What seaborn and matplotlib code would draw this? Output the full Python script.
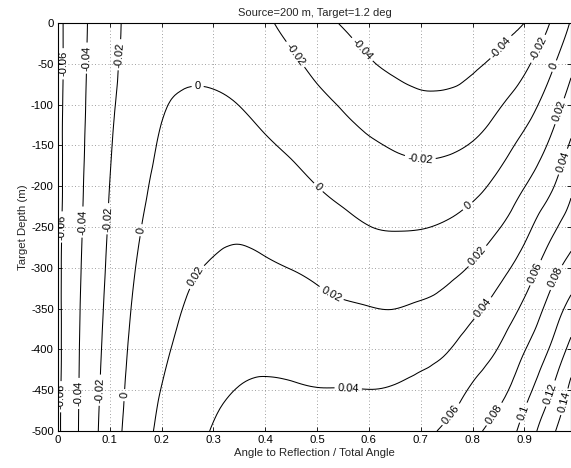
import numpy as np
import matplotlib
matplotlib.use("Agg")
import matplotlib.pyplot as plt
import matplotlib.tri as mtri
from matplotlib.ticker import FuncFormatter
import seaborn as sns

# Angle to reflection / total angle (columns) and target depth (rows)
angle_frac = [0.0, 0.05, 0.10, 0.15, 0.20, 0.25, 0.30, 0.35, 0.40, 0.45, 0.50,
              0.55, 0.60, 0.65, 0.70, 0.75, 0.80, 0.85, 0.90, 0.95, 0.99]
target_depth = [0, -50, -100, -150, -200, -250, -300, -350, -400, -450, -500]

# values, one list per depth row
dev_000 = [-0.0644, -0.0427, -0.0258, -0.0145, -0.0105, -0.0095, -0.0092, -0.0115, -0.0175, -0.0255, -0.0330,
           -0.0415, -0.0465, -0.0500, -0.0515, -0.0515, -0.0495, -0.0460, -0.0400, -0.0195, 0.0015]
dev_050 = [-0.0645, -0.0422, -0.0243, -0.0135, -0.0066, -0.0035, -0.0036, -0.0062, -0.0117, -0.0170, -0.0240,
           -0.0306, -0.0385, -0.0432, -0.0468, -0.0465, -0.0425, -0.0361, -0.0240, -0.0045, 0.0155]
dev_100 = [-0.0641, -0.0415, -0.0228, -0.0115, -0.0018, 0.0025, 0.0022, -0.0002, -0.0047, -0.0097, -0.0160,
           -0.0215, -0.0288, -0.0325, -0.0355, -0.0353, -0.0316, -0.0220, -0.0090, 0.0095, 0.0285]
dev_150 = [-0.0642, -0.0406, -0.0213, -0.0087, 0.0020, 0.0072, 0.0075, 0.0056, 0.0018, -0.0025, -0.0080,
           -0.0130, -0.0175, -0.0215, -0.0239, -0.0232, -0.0187, -0.0085, 0.0055, 0.0228, 0.0425]
dev_200 = [-0.0646, -0.0396, -0.0198, -0.0057, 0.0050, 0.0108, 0.0122, 0.0115, 0.0088, 0.0052, 0.0000,
           -0.0045, -0.0085, -0.0117, -0.0123, -0.0102, -0.0053, 0.0052, 0.0195, 0.0367, 0.0565]
dev_250 = [-0.0640, -0.0386, -0.0183, -0.0027, 0.0078, 0.0142, 0.0168, 0.0175, 0.0152, 0.0127, 0.0083,
           0.0042, 0.0003, -0.0011, -0.0007, 0.0020, 0.0083, 0.0189, 0.0340, 0.0543, 0.0700]
dev_300 = [-0.0636, -0.0375, -0.0167, 0.0001, 0.0105, 0.0177, 0.0213, 0.0233, 0.0219, 0.0197, 0.0166,
           0.0129, 0.0102, 0.0094, 0.0108, 0.0145, 0.0219, 0.0335, 0.0490, 0.0712, 0.0875]
dev_350 = [-0.0638, -0.0364, -0.0150, 0.0028, 0.0137, 0.0213, 0.0262, 0.0292, 0.0285, 0.0270, 0.0247,
           0.0221, 0.0206, 0.0199, 0.0223, 0.0268, 0.0360, 0.0475, 0.0640, 0.0868, 0.1065]
dev_400 = [-0.0640, -0.0355, -0.0133, 0.0054, 0.0171, 0.0250, 0.0312, 0.0350, 0.0355, 0.0345, 0.0327,
           0.0314, 0.0306, 0.0305, 0.0338, 0.0388, 0.0492, 0.0608, 0.0790, 0.1017, 0.1260]
dev_450 = [-0.0634, -0.0348, -0.0116, 0.0078, 0.0204, 0.0287, 0.0362, 0.0406, 0.0420, 0.0415, 0.0405,
           0.0405, 0.0402, 0.0415, 0.0453, 0.0510, 0.0625, 0.0739, 0.0930, 0.1183, 0.1450]
dev_500 = [-0.0629, -0.0342, -0.0098, 0.0100, 0.0235, 0.0322, 0.0412, 0.0460, 0.0465, 0.0462, 0.0470,
           0.0480, 0.0490, 0.0518, 0.0560, 0.0630, 0.0752, 0.0873, 0.1070, 0.1345, 0.1560]

levels = [-0.06, -0.04, -0.02, 0.0, 0.02, 0.04, 0.06, 0.08, 0.10, 0.12, 0.14]

# where the inline labels sit (data coords), roughly as in the original
label_spots = [
    (0.010, -50), (0.010, -250), (0.006, -458),
    (0.057, -43), (0.049, -244), (0.042, -454),
    (0.120, -39), (0.100, -240), (0.081, -450),
    (0.161, -254), (0.127, -456),
    (0.27, -71), (0.50, -203), (0.789, -223), (0.963, -54),
    (0.457, -39), (0.699, -166), (0.925, -31),
    (0.586, -33), (0.86, -33),
    (0.261, -309), (0.528, -331), (0.812, -287), (0.963, -107),
    (0.56, -448), (0.821, -350), (0.966, -168),
    (0.757, -479), (0.925, -307),
    (0.841, -479), (0.962, -312),
    (0.896, -477), (0.95, -454), (0.976, -464),
]

sns.set_theme(style="ticks")
plt.rcParams['font.family'] = ['Liberation Sans', 'DejaVu Sans']
plt.rcParams['axes.edgecolor'] = 'black'
plt.rcParams['xtick.color'] = 'black'
plt.rcParams['ytick.color'] = 'black'

Z = np.vstack([dev_000, dev_050, dev_100, dev_150, dev_200, dev_250,
               dev_300, dev_350, dev_400, dev_450, dev_500])
X, Y = np.meshgrid(angle_frac, target_depth)

# triangulate the grid (depth scaled so triangles are not too stretched)
ny, nx = Z.shape
idx = np.arange(nx * ny).reshape(ny, nx)
a = idx[:-1, :-1].ravel()
b = idx[:-1, 1:].ravel()
c = idx[1:, :-1].ravel()
d = idx[1:, 1:].ravel()
triangles = np.concatenate([np.c_[a, b, d], np.c_[a, d, c]])
tri = mtri.Triangulation(X.ravel(), Y.ravel() / 500.0, triangles)
interp = mtri.CubicTriInterpolator(tri, Z.ravel(), kind='min_E')
refiner = mtri.UniformTriRefiner(tri)
tri_f, z_f = refiner.refine_field(Z.ravel(), triinterpolator=interp, subdiv=3)
tri_f = mtri.Triangulation(tri_f.x, tri_f.y * 500.0, tri_f.triangles)

fig = plt.figure(figsize=(5.71, 4.68), dpi=100)
ax = fig.add_axes([58 / 571, 37 / 468, 513 / 571, 408 / 468])

cs = ax.tricontour(tri_f, z_f, levels=levels, colors='black', linewidths=0.75,
                   linestyles='solid')
ax.clabel(cs, fmt=lambda v: f"{v:g}", fontsize=8, inline=True,
          inline_spacing=3, manual=label_spots)

ax.set_xlim(0, 0.99)
ax.set_ylim(-500, 0)
ax.set_xticks(np.arange(0, 10) / 10)
ax.set_yticks(np.arange(-500, 1, 50))
ax.xaxis.set_major_formatter(FuncFormatter(lambda v, p: f"{v:g}"))
ax.yaxis.set_major_formatter(FuncFormatter(lambda v, p: f"{v:g}"))
ax.tick_params(direction='in', top=True, right=True, labelsize=8.2,
               length=3, width=0.6, pad=3)
ax.grid(True, linestyle=(0, (1, 3)), color='0.5', linewidth=0.6)
for s in ax.spines.values():
    s.set_color('black')
    s.set_linewidth(0.8)

ax.set_title('Source=200 m, Target=1.2 deg', fontsize=8, pad=5)
ax.set_xlabel('Angle to Reflection / Total Angle', fontsize=8.2, labelpad=2)
ax.set_ylabel('Target Depth (m)', fontsize=8.2, labelpad=2)

fig.savefig('out.png', dpi=100)
